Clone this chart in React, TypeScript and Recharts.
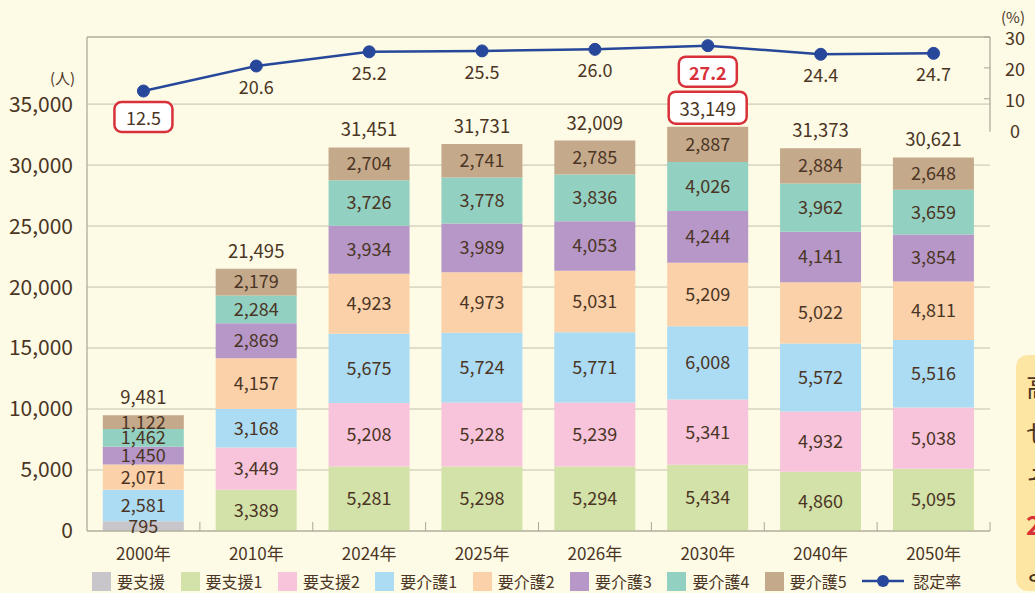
import { ComposedChart, Bar, Line, XAxis, YAxis, CartesianGrid, LabelList, ReferenceLine } from 'recharts';

const years = ['2000年', '2010年', '2024年', '2025年', '2026年', '2030年', '2040年', '2050年'];
const youshien = [795, null, null, null, null, null, null, null];
const youshien1 = [null, 3389, 5281, 5298, 5294, 5434, 4860, 5095];
const youshien2 = [null, 3449, 5208, 5228, 5239, 5341, 4932, 5038];
const youkaigo1 = [2581, 3168, 5675, 5724, 5771, 6008, 5572, 5516];
const youkaigo2 = [2071, 4157, 4923, 4973, 5031, 5209, 5022, 4811];
const youkaigo3 = [1450, 2869, 3934, 3989, 4053, 4244, 4141, 3854];
const youkaigo4 = [1462, 2284, 3726, 3778, 3836, 4026, 3962, 3659];
const youkaigo5 = [1122, 2179, 2704, 2741, 2785, 2887, 2884, 2648];
const totals = [9481, 21495, 31451, 31731, 32009, 33149, 31373, 30621];
const rates = [12.5, 20.6, 25.2, 25.5, 26.0, 27.2, 24.4, 24.7];

const leftTicks = [0, 5000, 10000, 15000, 20000, 25000, 30000, 35000];
const rightTicks = [0, 10, 20, 30];

// 枠で囲む年
const boxedTotalYears = ['2030年'];
const boxedRateYears = ['2000年', '2030年'];
const redRateYears = ['2030年'];

const series = [
  { key: 's0', name: '要支援', color: '#c9c6cb', values: youshien },
  { key: 's1', name: '要支援1', color: '#d3e2a9', values: youshien1 },
  { key: 's2', name: '要支援2', color: '#f7c4dc', values: youshien2 },
  { key: 'k1', name: '要介護1', color: '#abdcf4', values: youkaigo1 },
  { key: 'k2', name: '要介護2', color: '#fbd1aa', values: youkaigo2 },
  { key: 'k3', name: '要介護3', color: '#b697c8', values: youkaigo3 },
  { key: 'k4', name: '要介護4', color: '#92d0c2', values: youkaigo4 },
  { key: 'k5', name: '要介護5', color: '#c5a98b', values: youkaigo5 },
];

const data = years.map((year, i) => {
  const row: any = { year, total: totals[i], rate: rates[i] };
  series.forEach((s) => { row[s.key] = s.values[i]; });
  return row;
});

const W = 1035;
const H = 593;
const FONT = '"Noto Sans CJK JP", "Noto Sans", sans-serif';
const TEXT = '#4b3524';
const AXIS = '#aaa696';
const RED = '#d8313a';
const LINE = '#26479a';
const LEFT_W = 87;
const RIGHT_W = 45;
const BAND = (W - LEFT_W - RIGHT_W) / years.length;
const R_MIN = -130;
const R_MAX = 30;
const R_STEP_PX = ((531 - 37) / (R_MAX - R_MIN)) * 10;

const fmt = (v: any) => (v == null ? '' : Number(v).toLocaleString('en-US'));

function XTick(props: any) {
  const { x, y, payload } = props;
  return (
    <g>
      <line x1={x + BAND / 2} x2={x + BAND / 2} y1={y} y2={y - 9} stroke={AXIS} strokeWidth={1} />
      <text x={x} y={y + 21} textAnchor="middle" dominantBaseline="central" fill={TEXT} fontSize={17} fontFamily={FONT}>
        {payload.value}
      </text>
    </g>
  );
}

function RightTick(props: any) {
  const { x, y, payload } = props;
  const v = payload.value;
  return (
    <g>
      {v > 0 && <line x1={x - 6} x2={x} y1={y} y2={y} stroke={AXIS} strokeWidth={1} />}
      <line x1={x} x2={x} y1={y} y2={v > 0 ? y + R_STEP_PX : y + 2} stroke={AXIS} strokeWidth={1.2} />
      <text x={x + 25} y={y} textAnchor="middle" dominantBaseline="central" fill={TEXT} fontSize={18} fontFamily={FONT}>
        {v}
      </text>
    </g>
  );
}

function TotalLabel(props: any) {
  const { x, y, width, value, index } = props;
  const cx = x + width / 2;
  const cy = y - 19;
  const boxed = boxedTotalYears.includes(years[index]);
  return (
    <g>
      {boxed && <rect x={cx - 39} y={cy - 16} width={78} height={32} rx={7} fill="#ffffff" stroke={RED} strokeWidth={2.5} />}
      <text x={cx} y={cy} textAnchor="middle" dominantBaseline="central" fill={TEXT} fontSize={18.5} fontFamily={FONT}>
        {fmt(value)}
      </text>
    </g>
  );
}

function RateLabel(props: any) {
  const { x, y, value, index } = props;
  const boxed = boxedRateYears.includes(years[index]);
  const red = redRateYears.includes(years[index]);
  const cy = y + (boxed ? 26 : 20);
  return (
    <g>
      {boxed && <rect x={x - 29} y={cy - 15} width={58} height={30} rx={7} fill="#ffffff" stroke={RED} strokeWidth={2.5} />}
      <text x={x} y={cy} textAnchor="middle" dominantBaseline="central" fill={red ? RED : TEXT} fontSize={18} fontWeight={red ? 600 : 400} fontFamily={FONT}>
        {Number(value).toFixed(1)}
      </text>
    </g>
  );
}

export default function App() {
  return (
    <div style={{ position: 'absolute', left: 0, top: 0, width: W, height: H, overflow: 'hidden', background: '#fdfbe6', fontFamily: FONT }}>
      <ComposedChart width={W} height={H} data={data} margin={{ top: 37, right: 0, bottom: 32, left: 0 }} barCategoryGap="14%">
        <CartesianGrid yAxisId="left" vertical={false} stroke="#c4bfac" strokeWidth={1} />
        <XAxis
          dataKey="year"
          height={30}
          axisLine={{ stroke: AXIS, strokeWidth: 1.2 }}
          tickLine={false}
          tickSize={0}
          tickMargin={0}
          tick={<XTick />}
          interval={0}
        />
        <YAxis
          yAxisId="left"
          width={LEFT_W}
          domain={[0, 40500]}
          ticks={leftTicks}
          tickFormatter={fmt}
          axisLine={{ stroke: AXIS, strokeWidth: 1.2 }}
          tickLine={false}
          tickSize={0}
          tickMargin={14}
          tick={{ fill: TEXT, fontSize: 21, fontFamily: FONT }}
        />
        <YAxis
          yAxisId="right"
          orientation="right"
          width={RIGHT_W}
          domain={[R_MIN, R_MAX]}
          ticks={rightTicks}
          axisLine={false}
          tickLine={false}
          tickSize={0}
          tickMargin={0}
          tick={<RightTick />}
        />
        <ReferenceLine yAxisId="left" y={40500} stroke={AXIS} strokeWidth={1.2} />
        {series.map((s, i) => (
          <Bar key={s.key} yAxisId="left" dataKey={s.key} stackId="a" fill={s.color} isAnimationActive={false}>
            <LabelList dataKey={s.key} position="center" formatter={fmt} fill={TEXT} fontSize={18} fontFamily={FONT} />
            {i === series.length - 1 && <LabelList dataKey="total" content={<TotalLabel />} />}
          </Bar>
        ))}
        <Line
          yAxisId="right"
          type="linear"
          dataKey="rate"
          stroke={LINE}
          strokeWidth={2.5}
          dot={{ r: 6, fill: LINE, stroke: LINE, strokeWidth: 1 }}
          isAnimationActive={false}
        >
          <LabelList dataKey="rate" content={<RateLabel />} />
        </Line>
      </ComposedChart>

      <div style={{ position: 'absolute', left: 50, top: 67, fontSize: 15, color: TEXT }}>(人)</div>
      <div style={{ position: 'absolute', left: 1001, top: 6, fontSize: 15, color: TEXT }}>(%)</div>

      <div style={{ position: 'absolute', left: 92, top: 569, display: 'flex', alignItems: 'center', gap: 15.5, fontSize: 16, color: TEXT }}>
        {series.map((s) => (
          <div key={s.key} style={{ display: 'flex', alignItems: 'center', gap: 6 }}>
            <div style={{ width: 19, height: 19, background: s.color }} />
            <span>{s.name}</span>
          </div>
        ))}
        <div style={{ display: 'flex', alignItems: 'center', gap: 9 }}>
          <svg width={42} height={14}>
            <line x1={0} x2={42} y1={7} y2={7} stroke={LINE} strokeWidth={2.5} />
            <circle cx={21} cy={7} r={6} fill={LINE} />
          </svg>
          <span>認定率</span>
        </div>
      </div>

      <div style={{ position: 'absolute', left: 1016, top: 355, width: 60, height: 236, borderRadius: 12, background: '#fde6a4', color: TEXT, fontSize: 26, lineHeight: '46px', paddingLeft: 10, paddingTop: 8, boxSizing: 'border-box' }}>
        <div>高</div>
        <div>せ</div>
        <div>そ</div>
        <div style={{ color: RED, fontWeight: 700 }}>2</div>
        <div>よ</div>
      </div>
    </div>
  );
}
